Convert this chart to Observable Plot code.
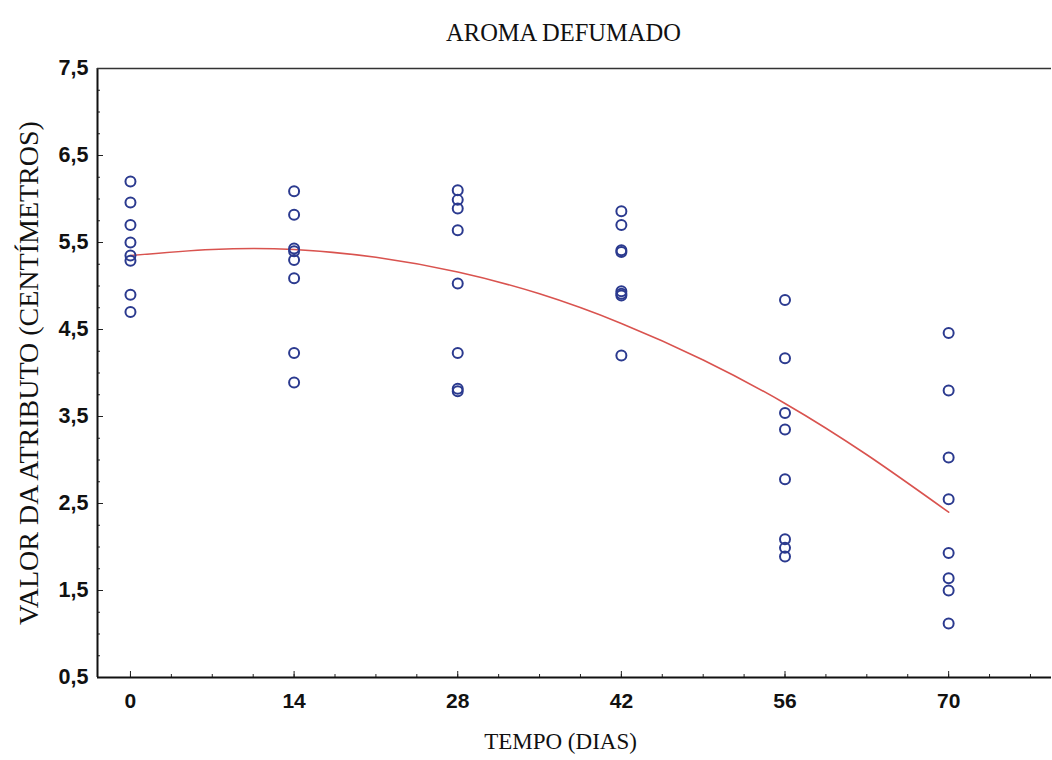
<!DOCTYPE html>
<html>
<head>
<meta charset="utf-8">
<script src="https://cdn.jsdelivr.net/npm/d3@7"></script>
<script src="https://cdn.jsdelivr.net/npm/@observablehq/plot@0.6"></script>
<style>
  html, body { margin: 0; padding: 0; background: #fff; }
</style>
</head>
<body>
<div id="chart"></div>
<script>
// Days of storage
const dias = [0, 14, 28, 42, 56, 70];
// Panel scores (8 per day)
const valores0  = [6.20, 5.96, 5.70, 5.50, 5.35, 5.29, 4.90, 4.70];
const valores14 = [6.09, 5.82, 5.43, 5.40, 5.30, 5.09, 4.23, 3.89];
const valores28 = [6.10, 5.99, 5.89, 5.64, 5.03, 4.23, 3.82, 3.79];
const valores42 = [5.86, 5.70, 5.41, 5.39, 4.94, 4.91, 4.89, 4.20];
const valores56 = [4.84, 4.17, 3.54, 3.35, 2.78, 2.09, 1.99, 1.89];
const valores70 = [4.46, 3.80, 3.03, 2.55, 1.93, 1.64, 1.50, 1.12];
// Fitted curve
const curvaX = [0, 7, 14, 21, 28, 35, 42, 49, 56, 63, 70];
const curvaY = [5.35, 5.42, 5.42, 5.33, 5.16, 4.91, 4.57, 4.15, 3.65, 3.06, 2.40];
// Tick labels
const yTicks = [0.5, 1.5, 2.5, 3.5, 4.5, 5.5, 6.5, 7.5];
const yMinor = d3.range(0.5, 7.51, 0.25);
const xTicks = [0, 14, 28, 42, 56, 70];
const xMinor = d3.range(0, 78, 3.5);

const series = [valores0, valores14, valores28, valores42, valores56, valores70];
const pontos = series.flatMap((vals, i) => vals.map(v => ({dia: dias[i], valor: v})));
const curva = curvaX.map((x, i) => ({dia: x, valor: curvaY[i]}));

const xDomain = [-2.82, 78.8];
const yDomain = [0.5, 7.5];
const serif = "'Liberation Serif', 'DejaVu Serif', serif";
const sans = "'Liberation Sans', Arial, sans-serif";
const fmt = d => d.toFixed(1).replace(".", ",");

const chart = Plot.plot({
  width: 1052,
  height: 760,
  marginLeft: 97,
  marginRight: 1,
  marginTop: 68,
  marginBottom: 83,
  style: {background: "#fff", overflow: "visible"},
  x: {domain: xDomain, label: null},
  y: {domain: yDomain, label: null},
  marks: [
    // minor ticks
    Plot.axisY(yMinor, {anchor: "left", tickSize: -3, text: null, stroke: "#222", label: null}),
    Plot.axisX(xMinor, {anchor: "bottom", tickSize: -3, text: null, stroke: "#222", label: null}),
    // major ticks and labels
    Plot.axisY(yTicks, {anchor: "left", tickSize: -6, tickPadding: 15, tickFormat: fmt,
      fontSize: 21.5, fontFamily: sans, fontWeight: "bold", fill: "#111", stroke: "#222", label: null}),
    Plot.axisX(xTicks, {anchor: "bottom", tickSize: -6, tickPadding: 22, tickFormat: d => String(d),
      fontSize: 21, fontFamily: sans, fontWeight: "bold", fill: "#111", stroke: "#222", label: null}),
    // frame lines
    Plot.ruleX([xDomain[0]], {stroke: "#111", strokeWidth: 2}),
    Plot.ruleY([yDomain[0]], {stroke: "#111", strokeWidth: 2}),
    Plot.ruleY([yDomain[1]], {stroke: "#333", strokeWidth: 1.5}),
    // fitted curve
    Plot.line(curva, {x: "dia", y: "valor", curve: "natural", stroke: "#d9534f", strokeWidth: 1.6}),
    // observations
    Plot.dot(pontos, {x: "dia", y: "valor", r: 5, stroke: "#2b3a8f", strokeWidth: 2, fill: "none"}),
    // title and axis labels
    Plot.text(["AROMA DEFUMADO"], {frameAnchor: "top", dx: -11, dy: -45, fontFamily: serif, fontSize: 24.5, fill: "#111"}),
    Plot.text(["TEMPO (DIAS)"], {frameAnchor: "bottom", dx: -14, dy: 71, fontFamily: serif, fontSize: 23, fill: "#111"}),
    Plot.text(["VALOR DA ATRIBUTO (CENTÍMETROS)"], {frameAnchor: "left", textAnchor: "middle", rotate: -90, dx: -68, dy: 0, fontFamily: serif, fontSize: 28, fill: "#111"})
  ]
});
document.getElementById("chart").appendChild(chart);
</script>
</body>
</html>
